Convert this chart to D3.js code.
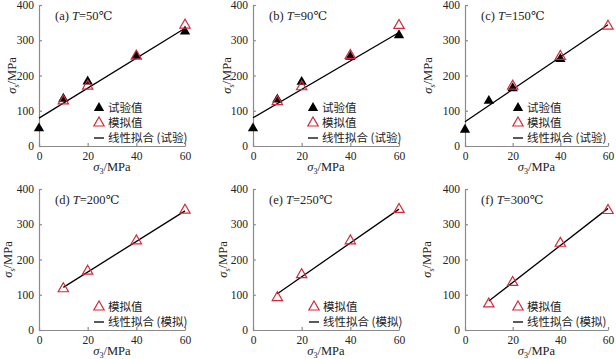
<!DOCTYPE html>
<html><head><meta charset="utf-8">
<script src="https://cdn.jsdelivr.net/npm/d3@7/dist/d3.min.js"></script>
<style>
body{margin:0;background:#fff;}
svg{display:block;}
svg text{font-family:"Liberation Serif","Tinos","Times New Roman","DejaVu Serif",serif !important;fill:#222;}
svg text.cjk{font-family:"Noto Sans CJK SC",sans-serif !important;}
</style></head>
<body><svg id="c" width="616" height="359"></svg>
<script>
// ---- data ----
const panelIds = ["a","b","c","d","e","f"];
const temps = [50, 90, 150, 200, 250, 300];
const xTicks = [0, 20, 40, 60];
const yTicks = [0, 100, 200, 300, 400];
// experimental values (sigma3, sigma_s)
const expA = [[0,50],[10,134],[20,183],[40,256],[60,325]];
const expB = [[0,50],[10,132],[20,182],[40,253],[60,314]];
const expC = [[0,46],[10,128],[20,164],[40,247]];
// simulated values
const simA = [[10,128],[20,170],[40,255],[60,343]];
const simB = [[10,126],[20,168],[40,257],[60,342]];
const simC = [[20,170],[40,254],[60,340]];
const simD = [[10,117],[20,167],[40,253],[60,340]];
const simE = [[10,92],[20,157],[40,253],[60,342]];
const simF = [[10,74],[20,135],[40,246],[60,339]];
// linear fit end points
const fitA = [[0,79],[60,334]];
const fitB = [[0,80],[60,322]];
const fitC = [[0,69],[60,344]];
const fitD = [[10,121],[60,338]];
const fitE = [[10,103],[60,343]];
const fitF = [[10,82],[60,345]];
const legendExp = ["试验值","模拟值","线性拟合 (试验)"];
const legendSim = ["模拟值","线性拟合 (模拟)"];

const exps = [expA, expB, expC, null, null, null];
const sims = [simA, simB, simC, simD, simE, simF];
const fits = [fitA, fitB, fitC, fitD, fitE, fitF];

// ---- layout ----
const originsX = [39, 253, 465, 39, 253, 465];
const widths = [146, 146, 143, 146, 146, 143];
const rowTop = [5, 5, 5, 189, 189, 189];
const rowBot = [146, 146, 146, 330, 330, 330];
const legDx = [60, 60, 53, 60, 61, 53];
const yLabX = [12, 227, 428, 8, 223, 427];
const red = "#d42a3a";
const axisCol = "#8a8a8a";

const svg = d3.select("#c");

panelIds.forEach((id, i) => {
  const x0 = originsX[i];
  const pw = widths[i];
  const x = d3.scaleLinear().domain([0, 60]).range([x0, x0 + pw]);
  const y = d3.scaleLinear().domain([0, 400]).range([rowBot[i], rowTop[i]]);
  const g = svg.append("g");

  // axes
  const ax = g.append("g").attr("transform", `translate(0,${rowBot[i]})`)
    .call(d3.axisBottom(x).tickValues(xTicks).tickSizeInner(-3).tickSizeOuter(0).tickPadding(6));
  const ay = g.append("g").attr("transform", `translate(${x0},0)`)
    .call(d3.axisLeft(y).tickValues(yTicks).tickSizeInner(-3).tickSizeOuter(0).tickPadding(4));
  [ax, ay].forEach(a => {
    a.attr("font-family", null);
    a.selectAll("path,line").attr("stroke", axisCol).attr("stroke-width", 1.2);
    a.selectAll("text").attr("font-size", 11.5).attr("fill", "#222");
  });
  ay.selectAll("text").attr("dx", -1);

  // fit line
  const line = d3.line().x(d => x(d[0])).y(d => y(d[1]));
  g.append("path").datum(fits[i]).attr("d", line).attr("stroke", "#000").attr("stroke-width", 1.3).attr("fill", "none");

  const tri = d3.symbol().type(d3.symbolTriangle).size(46);
  if (exps[i]) {
    g.selectAll(".e").data(exps[i]).join("path")
      .attr("d", tri).attr("transform", d => `translate(${x(d[0])},${y(d[1])})`)
      .attr("fill", "#000");
  }
  g.selectAll(".s").data(sims[i]).join("path")
    .attr("d", tri).attr("transform", d => `translate(${x(d[0])},${y(d[1])})`)
    .attr("fill", "none").attr("stroke", red).attr("stroke-width", 1.2);

  // title
  const t = g.append("text").attr("x", x0 + 16).attr("y", rowTop[i] + 15).attr("font-size", 12.5);
  t.append("tspan").text(`(${id}) `);
  t.append("tspan").attr("font-style", "italic").text("T");
  t.append("tspan").text(`=${temps[i]}℃`);

  // x label
  const xl = g.append("text").attr("x", x0 + pw / 2).attr("y", rowBot[i] + 25).attr("text-anchor", "middle").attr("font-size", 12.5);
  xl.append("tspan").attr("font-style", "italic").text("σ");
  xl.append("tspan").attr("font-size", 8).attr("dy", 3).text("3");
  xl.append("tspan").attr("dy", -3).text("/MPa");

  // y label
  const cy = (rowTop[i] + rowBot[i]) / 2;
  const yl = g.append("text").attr("transform", `translate(${yLabX[i]},${cy}) rotate(-90)`)
    .attr("text-anchor", "middle").attr("dy", "0.35em").attr("font-size", 12.5);
  yl.append("tspan").attr("font-style", "italic").text("σ");
  yl.append("tspan").attr("font-size", 8).attr("dy", 3).text("s");
  yl.append("tspan").attr("dy", -3).text("/MPa");

  // legend
  const lx = x0 + legDx[i];
  const items = exps[i] ? legendExp : legendSim;
  const ly0 = exps[i] ? rowTop[i] + 103 : rowTop[i] + 118;
  items.forEach((txt, k) => {
    const ly = ly0 + k * 15;
    const isLine = k === items.length - 1;
    const isExp = exps[i] && k === 0;
    if (isLine) {
      g.append("line").attr("x1", lx - 5).attr("x2", lx + 5).attr("y1", ly).attr("y2", ly)
        .attr("stroke", "#000").attr("stroke-width", 1.3);
    } else {
      g.append("path").attr("d", tri).attr("transform", `translate(${lx},${ly})`)
        .attr("fill", isExp ? "#000" : "none").attr("stroke", isExp ? "none" : red).attr("stroke-width", 1.2);
    }
    g.append("text").attr("class", "cjk").attr("x", lx + 9).attr("y", ly).attr("dy", "0.35em")
      .attr("font-size", 11.5).text(txt);
  });
});
</script></body></html>
